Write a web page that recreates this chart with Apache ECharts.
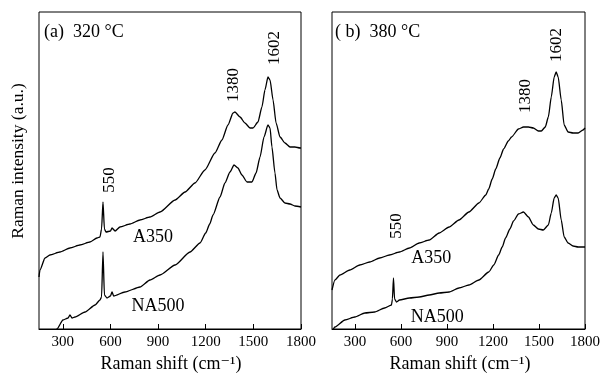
<!DOCTYPE html>
<html><head><meta charset="utf-8">
<script src="https://cdn.jsdelivr.net/npm/echarts@6/dist/echarts.min.js"></script>
<style>html,body{margin:0;padding:0;background:#fff}#c{width:603px;height:375px}</style>
</head><body><div id="c"></div>
<script>
// Raman shift (cm^-1), intensity (a.u.)
const xTicks = [300, 600, 900, 1200, 1500, 1800];
const a_A350 = [[150,52],[156,59],[188,71],[219,74],[282,77],[345,81],[408,84],[471,87],[515,91],[534,92],[544,100],[553,127],[562,100],[572,97],[600,98],[610,101],[629,98],[660,102],[723,105],[786,109],[849,112],[912,117],[1007,129],[1070,137],[1132,146],[1195,159],[1258,176],[1302,189],[1340,204],[1372,216],[1384,217],[1416,212],[1447,206],[1479,201],[1498,201],[1529,207],[1554,222],[1573,239],[1592,252],[1605,249],[1624,229],[1643,206],[1668,192],[1699,186],[1731,182],[1762,182],[1794,181],[1800,181]];
const a_NA500 = [[251,-3],[263,0],[301,9],[333,11],[345,14],[358,11],[377,12],[440,17],[503,24],[534,29],[544,32],[553,77],[562,34],[578,31],[600,33],[610,37],[620,33],[691,37],[786,42],[849,49],[912,54],[1007,64],[1101,77],[1164,86],[1200,96],[1225,105],[1246,114],[1290,132],[1321,146],[1353,157],[1378,164],[1403,161],[1428,154],[1460,147],[1491,147],[1517,156],[1542,172],[1567,192],[1592,204],[1605,201],[1617,182],[1636,156],[1649,139],[1668,131],[1699,126],[1731,125],[1762,123],[1800,122]];
const b_A350 = [[150,39],[169,49],[202,54],[266,59],[331,64],[396,67],[461,71],[525,74],[590,77],[655,81],[719,86],[784,89],[849,96],[914,102],[978,109],[1043,117],[1108,126],[1153,134],[1172,140],[1195,150],[1218,160],[1245,171],[1269,180],[1300,188],[1321,192],[1366,200],[1399,202],[1431,202],[1463,201],[1496,198],[1515,198],[1541,202],[1561,212],[1580,232],[1599,252],[1612,257],[1625,252],[1645,229],[1664,204],[1690,197],[1722,196],[1755,196],[1787,199],[1800,201]];
const b_NA500 = [[156,-1],[169,2],[234,9],[299,12],[364,16],[428,17],[493,21],[538,24],[544,30],[551,51],[558,30],[571,27],[590,29],[655,31],[719,32],[784,34],[849,36],[914,37],[978,41],[1043,44],[1108,49],[1172,57],[1205,64],[1237,74],[1260,82],[1282,91],[1310,100],[1334,108],[1366,115],[1399,117],[1431,112],[1463,104],[1496,100],[1528,99],[1561,104],[1580,116],[1599,131],[1612,134],[1625,131],[1645,109],[1664,92],[1690,86],[1722,83],[1755,82],[1800,82]];
// annotation anchors [x, y, text, rotation]
const a_labels = [[1372,244,'1380',90],[1636,281,'1602',90],[597,149,'550',90],[868,92,'A350',0],[899,23,'NA500',0]];
const b_labels = [[1412,233,'1380',90],[1612,284,'1602',90],[571,103,'550',90],[797,71,'A350',0],[836,12,'NA500',0]];

const FONT = '"Liberation Serif","DejaVu Serif",serif';
const chart = echarts.init(document.getElementById('c'));
function xAx(i){return {type:'value',gridIndex:i,min:150,max:1800,
  axisLine:{show:true,lineStyle:{color:'#000',width:1}},
  axisTick:{show:true,inside:true,length:5,customValues:xTicks,lineStyle:{color:'#000'}},
  axisLabel:{customValues:xTicks,formatter:v=>String(v),color:'#000',fontFamily:FONT,fontSize:15,margin:6},
  splitLine:{show:false}};}
function yAx(i){return {type:'value',gridIndex:i,min:0,max:317,show:false};}
function mp(labels){return {symbol:'circle',symbolSize:0,silent:true,
  data:labels.map(l=>({coord:[l[0],l[1]],value:l[2],label:{show:true,formatter:l[2],rotate:l[3],position:'inside',color:'#000',fontFamily:FONT,fontSize:l[3]?17:18}}))};}
function ser(data,i,labels){return {type:'line',xAxisIndex:i,yAxisIndex:i,data:data,showSymbol:false,symbol:'none',clip:true,
  smooth:0.2,smoothMonotone:'x',
  lineStyle:{color:'#000',width:1.3},animation:false,markPoint:labels?mp(labels):undefined};}
chart.setOption({
  animation:false,
  grid:[{left:39,top:12,width:262,height:317,show:true,borderColor:'#000',borderWidth:1},
        {left:332,top:12,width:255,height:317,show:true,borderColor:'#000',borderWidth:1}],
  xAxis:[xAx(0),xAx(1)],
  yAxis:[yAx(0),yAx(1)],
  series:[ser(a_A350,0,a_labels),ser(a_NA500,0),ser(b_A350,1,b_labels),ser(b_NA500,1)],
  graphic:[
    {type:'text',left:44,top:23,style:{text:'(a)  320 °C',font:'18px '+FONT,fill:'#000'}},
    {type:'text',left:335,top:23,style:{text:'( b)  380 °C',font:'18px '+FONT,fill:'#000'}},
    {type:'text',x:171,y:364,style:{text:'Raman shift (cm\u207B\u00B9)',font:'18px '+FONT,fill:'#000',align:'center',verticalAlign:'middle'}},
    {type:'text',x:460,y:364,style:{text:'Raman shift (cm\u207B\u00B9)',font:'18px '+FONT,fill:'#000',align:'center',verticalAlign:'middle'}},
    {type:'text',x:18,y:161,rotation:Math.PI/2,style:{text:'Raman intensity (a.u.)',font:'17.5px '+FONT,fill:'#000',align:'center',verticalAlign:'middle'}}
  ]
});
</script></body></html>
